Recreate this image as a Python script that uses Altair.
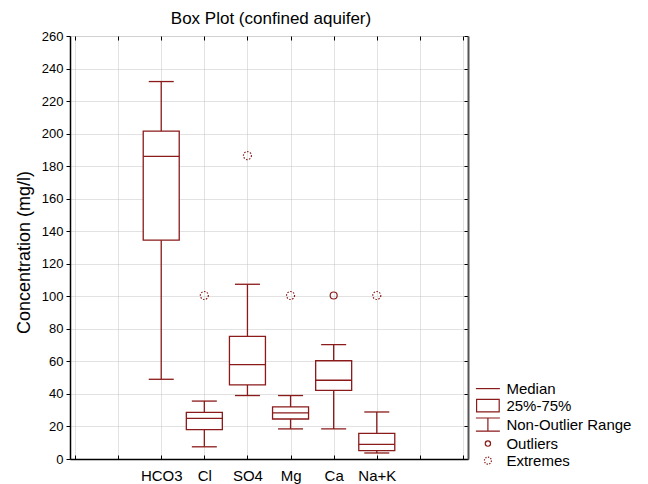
import json
import math
import altair as alt
import pandas as pd

# ---------------- data ----------------
categories = ["HCO3", "Cl", "SO4", "Mg", "Ca", "Na+K"]
whisker_low = [49, 7.5, 39, 18.5, 18.5, 3.7]
q1 = [134.5, 18, 45.5, 24.6, 42.2, 5.1]
median = [186, 25, 58, 28.3, 48.4, 9]
q3 = [201.5, 28.7, 75.4, 32, 60.4, 15.8]
whisker_high = [232, 35.6, 107.4, 39, 70.3, 28.9]

outlier_cats = ["Ca"]
outlier_vals = [100.5]
extreme_cats = ["Cl", "SO4", "Mg", "Na+K"]
extreme_vals = [100.5, 186.5, 100.5, 100.5]

legend_labels = ["Median", "25%-75%", "Non-Outlier Range", "Outliers", "Extremes"]

y_ticks = list(range(0, 261, 20))

# ---------------- style ----------------
RED = "#8b1a1a"
FONT = "Liberation Sans"
GRID = "#c4c4c4"
FIRST_POS = 2  # first category sits on the third grid line
x_grid = list(range(0, 10))

pos_of = {c: FIRST_POS + i for i, c in enumerate(categories)}
df = pd.DataFrame({
    "cat": categories,
    "pos": [pos_of[c] for c in categories],
    "wlo": whisker_low, "q1": q1, "med": median, "q3": q3, "whi": whisker_high,
})
df_out = pd.DataFrame({"pos": [pos_of[c] for c in outlier_cats], "v": outlier_vals})
df_ext = pd.DataFrame({"pos": [pos_of[c] for c in extreme_cats], "v": extreme_vals})
df_leg = pd.DataFrame({"legend": legend_labels})

lbls = ["" for _ in x_grid]
for c in categories:
    lbls[pos_of[c]] = c
label_expr = json.dumps(lbls) + "[datum.value]"

xscale = alt.Scale(domain=[0, 9], nice=False, zero=False)
yscale = alt.Scale(domain=[0, 260], nice=False, zero=True)

main_x_axis = alt.Axis(orient="bottom", values=x_grid, labelExpr=label_expr, ticks=False,
                       grid=True, gridColor=GRID, gridDash=[1, 1], gridWidth=1,
                       domain=True, domainColor="black", domainWidth=1.5,
                       labelFont=FONT, labelFontSize=15, labelColor="black", labelPadding=9,
                       labelOverlap=False, labelFlush=False, labelBound=False, title=None)
main_y_axis = alt.Axis(orient="left", values=y_ticks, ticks=True, tickSize=4, tickColor="black",
                       grid=True, gridColor=GRID, gridDash=[1, 1], gridWidth=1,
                       domain=True, domainColor="black", domainWidth=1.5,
                       labelFont=FONT, labelFontSize=13, labelColor="black", labelPadding=3,
                       labelOverlap=False, labelFlush=False, labelBound=False,
                       title="Concentration (mg/l)", titleFont=FONT, titleFontSize=18,
                       titleFontWeight="normal", titleColor="black", titleAngle=270,
                       titleX=-41, titleY=216, titleAlign="center", titleBaseline="alphabetic")

def tick_axis(orient, values):
    return alt.Axis(orient=orient, offset=-4, values=values, ticks=True, tickSize=4,
                    tickColor="black", tickWidth=1, labels=False, domain=False, grid=False, title=None)

right_frame_axis = alt.Axis(orient="right", values=[], ticks=False, labels=False, grid=False,
                            domain=True, domainColor="#555555", domainWidth=2, title=None)

# ---------------- legend symbols (unit paths) ----------------
SYM = 16.2          # legend symbol box (px); rows are SYM + stroke high
S = SYM / 2.0       # Vega scales custom paths by sqrt(size)/2

def u(px):
    return round(px / S, 3)

def circle_path(r):
    return f"M{r},0A{r},{r},0,1,1,{-r},0A{r},{r},0,1,1,{r},0Z"

def dotted_circle_path(r, n=8):
    parts = []
    for k in range(n):
        a1 = 2 * math.pi * k / n
        a2 = a1 + math.pi / n
        parts.append(f"M{r*math.cos(a1):.3f},{r*math.sin(a1):.3f}"
                     f"A{r},{r},0,0,1,{r*math.cos(a2):.3f},{r*math.sin(a2):.3f}")
    return "".join(parts)

hw = u(12)
legend_paths = [
    f"M{-hw},0H{hw}",
    f"M{-u(11.3)},{-u(6.3)}H{u(11.3)}V{u(6.3)}H{-u(11.3)}Z",
    f"M{-hw},{-u(6.6)}H{hw}M0,{-u(6.6)}V{u(6.6)}M{-hw},{u(6.6)}H{hw}",
    circle_path(u(2.65)),
    dotted_circle_path(u(3.5)),
]

# ---------------- layers ----------------
base = alt.Chart(df)

whiskers = base.mark_rule(color=RED, strokeWidth=1.3).encode(
    x=alt.X("pos:Q", scale=xscale, axis=tick_axis("bottom", x_grid)),
    y=alt.Y("wlo:Q", scale=yscale, axis=tick_axis("right", y_ticks)),
    y2="whi:Q",
)

boxes = base.mark_bar(size=36, fill="white", stroke=RED, strokeWidth=1.3, opacity=1).encode(
    x=alt.X("pos:Q", scale=xscale, axis=main_x_axis),
    y=alt.Y("q1:Q", scale=yscale, axis=main_y_axis),
    y2="q3:Q",
)

medians = base.mark_tick(orient="horizontal", size=36, thickness=1.3, color=RED, opacity=1).encode(
    x=alt.X("pos:Q", scale=xscale, axis=tick_axis("top", x_grid)),
    y=alt.Y("med:Q", scale=yscale, axis=right_frame_axis),
)

caps_hi = base.mark_tick(orient="horizontal", size=25, thickness=1.3, color=RED, opacity=1).encode(
    x=alt.X("pos:Q", scale=xscale, axis=None),
    y=alt.Y("whi:Q", scale=yscale, axis=None),
)
caps_lo = base.mark_tick(orient="horizontal", size=25, thickness=1.3, color=RED, opacity=1).encode(
    x=alt.X("pos:Q", scale=xscale, axis=None),
    y=alt.Y("wlo:Q", scale=yscale, axis=None),
)

outliers = alt.Chart(df_out).mark_point(shape="circle", size=49, filled=False, color=RED,
                                        strokeWidth=1.2, opacity=1).encode(
    x=alt.X("pos:Q", scale=xscale, axis=None),
    y=alt.Y("v:Q", scale=yscale, axis=None),
)
extremes = alt.Chart(df_ext).mark_point(shape="circle", size=64, filled=False, color=RED,
                                        strokeWidth=1.2, strokeDash=[1.5, 1.5], opacity=1).encode(
    x=alt.X("pos:Q", scale=xscale, axis=None),
    y=alt.Y("v:Q", scale=yscale, axis=None),
)

legend_layer = alt.Chart(df_leg).mark_point(filled=False, color=RED, strokeWidth=1.2).encode(
    x=alt.value(0),
    y=alt.value(0),
    opacity=alt.value(0),
    shape=alt.Shape("legend:N",
                    scale=alt.Scale(domain=legend_labels, range=legend_paths),
                    legend=alt.Legend(orient="none", legendX=417 - S, legendY=343.6, title=None,
                                      padding=0, symbolSize=SYM * SYM, symbolStrokeWidth=1.2,
                                      symbolStrokeColor=RED, symbolFillColor="transparent",
                                      symbolOpacity=1, labelFont=FONT, labelFontSize=15,
                                      labelColor="black", labelOffset=9.5, rowPadding=0,
                                      labelLimit=300)),
)

chart = alt.layer(
    whiskers, boxes, medians, caps_hi, caps_lo, outliers, extremes, legend_layer
).resolve_axis(
    x="independent", y="independent"
).properties(
    width=398,
    height=423,
    title=alt.TitleParams("Box Plot (confined aquifer)", font=FONT, fontSize=17,
                          fontWeight="normal", color="black", anchor="middle",
                          offset=10, baseline="alphabetic", dx=2, dy=21),
    autosize=alt.AutoSizeParams(type="none"),
    padding={"left": 62, "top": 28, "right": 170, "bottom": 28},
).configure_view(
    stroke="black", strokeWidth=1
).configure(
    background="white"
)

chart.save("out.html", embed_options={"renderer": "svg", "actions": False})
